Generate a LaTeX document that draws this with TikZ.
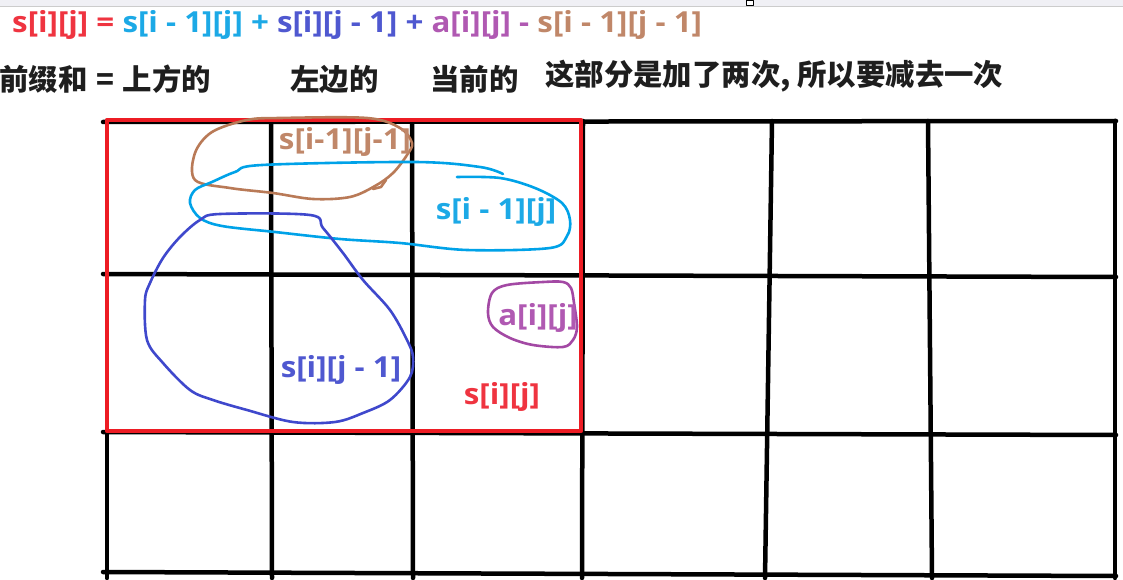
\documentclass[tikz,border=0pt]{standalone}
\usepackage{fontspec}
\setmainfont{Open Sans}[FakeStretch=1.08]
\newfontfamily\cjk{Noto Sans CJK SC}
\definecolor{boxred}{HTML}{ED1C24}
\definecolor{topblue}{HTML}{00A2E8}
\definecolor{leftblue}{HTML}{3F48CC}
\definecolor{curpurple}{HTML}{A349A4}
\definecolor{twicebrown}{HTML}{B97A57}
\definecolor{txtred}{HTML}{EF3440}
\definecolor{txttop}{HTML}{1CA9E6}
\definecolor{txtleft}{HTML}{4F58D0}
\definecolor{txtcur}{HTML}{B059B2}
\definecolor{txttwice}{HTML}{C08769}
\definecolor{notegray}{HTML}{1E1E1E}
\definecolor{barfill}{HTML}{F0F0F5}
\usetikzlibrary{positioning}
\tikzset{%
    gridline/.style={line width=4.5pt, color=black},
    prefixbox/.style={line width=4.5pt, color=boxred},
    penloop/.style={line width=2.6pt, smooth, tension=0.55},
    term/.style={font=\bfseries\fontsize{29}{34}\selectfont, inner sep=0pt},
    note/.style={font=\cjk\bfseries\fontsize{29.4}{34}\selectfont, color=notegray, inner sep=0pt, anchor=base west},
    %cell label/.style={font=\bfseries},
}
\begin{document}
\begin{tikzpicture}[x=1pt, y=-1pt, line join=round, line cap=round]

	\useasboundingbox (0,0) rectangle (1123,580);

	% window bar
	\fill[barfill] (0,0) rectangle (1123,6);
	\draw[gray!40, line width=0.8pt] (0,6) -- (1123,6);
	\draw[fill=white, line width=1pt] (746.5,0.5) rectangle (753,6);

	% formula
	\node[term, anchor=base west] (formula) at (12,33) {\textcolor{txtred}{s[i][j] =} \textcolor{txttop}{s[i - 1][j] +} \textcolor{txtleft}{s[i][j - 1] +} \textcolor{txtcur}{a[i][j] -} \textcolor{txttwice}{s[i - 1][j - 1]}};

	% notes
	\node[note] (prefix) at (-1,91) {前缀和\hspace{0.3em}=\hspace{0.3em}上方的};
	\node[note] (upper) at (290,91) {左边的};
	\node[note] (current) at (430,91) {当前的};
	\node[note] (twice) at (545,86) {这部分是加了两次, 所以要减去一次};

	% grid
	\foreach \xa/\xb in {107/107, 271/272, 412/413, 583/582, 772/765, 928/932, 1115/1115}
		\draw[gridline] (\xa,121) -- (\xb,578);
	\foreach \ya/\yb in {122/121, 274/277, 432/435, 572/576}
		\draw[gridline] (103,\ya) -- (1116,\yb);

	% prefix sum box
	\draw[prefixbox] (107,120) rectangle (581,431);

	% s[i-1][j-1]
	\draw[penloop, color=twicebrown] plot[smooth cycle] coordinates {(195,180) (195,153) (212,132) (247,120) (280,118) (367,118) (400,128) (412,143) (407,155) (393,173) (375,186) (350,197) (313,199) (273,193) (230,188)};
	\draw[penloop, color=twicebrown] (386,180) -- (381,187) -- (373,189);

	% s[i-1][j]
	\draw[penloop, color=topblue] plot coordinates {(457,177) (500,178) (535,188) (562,203) (570,220) (567,236) (550,248) (467,250) (400,243) (340,239) (275,232) (222,226) (200,218) (190,203) (195,190) (212,182) (235,172) (262,165) (415,162) (480,167) (503,174)};

	% s[i][j-1]
	\draw[penloop, color=leftblue] plot[smooth cycle] coordinates {(220,214) (310,215) (323,228) (343,253) (363,280) (390,310) (407,340) (413,357) (410,377) (390,400) (363,413) (335,422) (293,422) (247,410) (213,400) (190,390) (163,363) (147,340) (145,300) (150,283) (163,258) (180,237) (200,220)};

	% a[i][j]
	\draw[penloop, color=curpurple] plot[smooth cycle] coordinates {(543,282) (563,282) (571,288) (574,303) (577,327) (573,340) (563,347) (533,345) (510,338) (493,327) (488,313) (492,293) (507,285)};

	% cell labels
	\node[term, color=txttwice] (twicelabel) at (345,142) {s[i-1][j-1]};
	\node[term, color=txttop] (toplabel) at (496,212) {s[i - 1][j]};
	\node[term, color=txtleft] (leftlabel) at (341,370) {s[i][j - 1]};
	\node[term, color=txtcur] (curlabel) at (538,318) {a[i][j]};
	\node[term, color=txtred] (sumlabel) at (502,397) {s[i][j]};

\end{tikzpicture}
\end{document}
